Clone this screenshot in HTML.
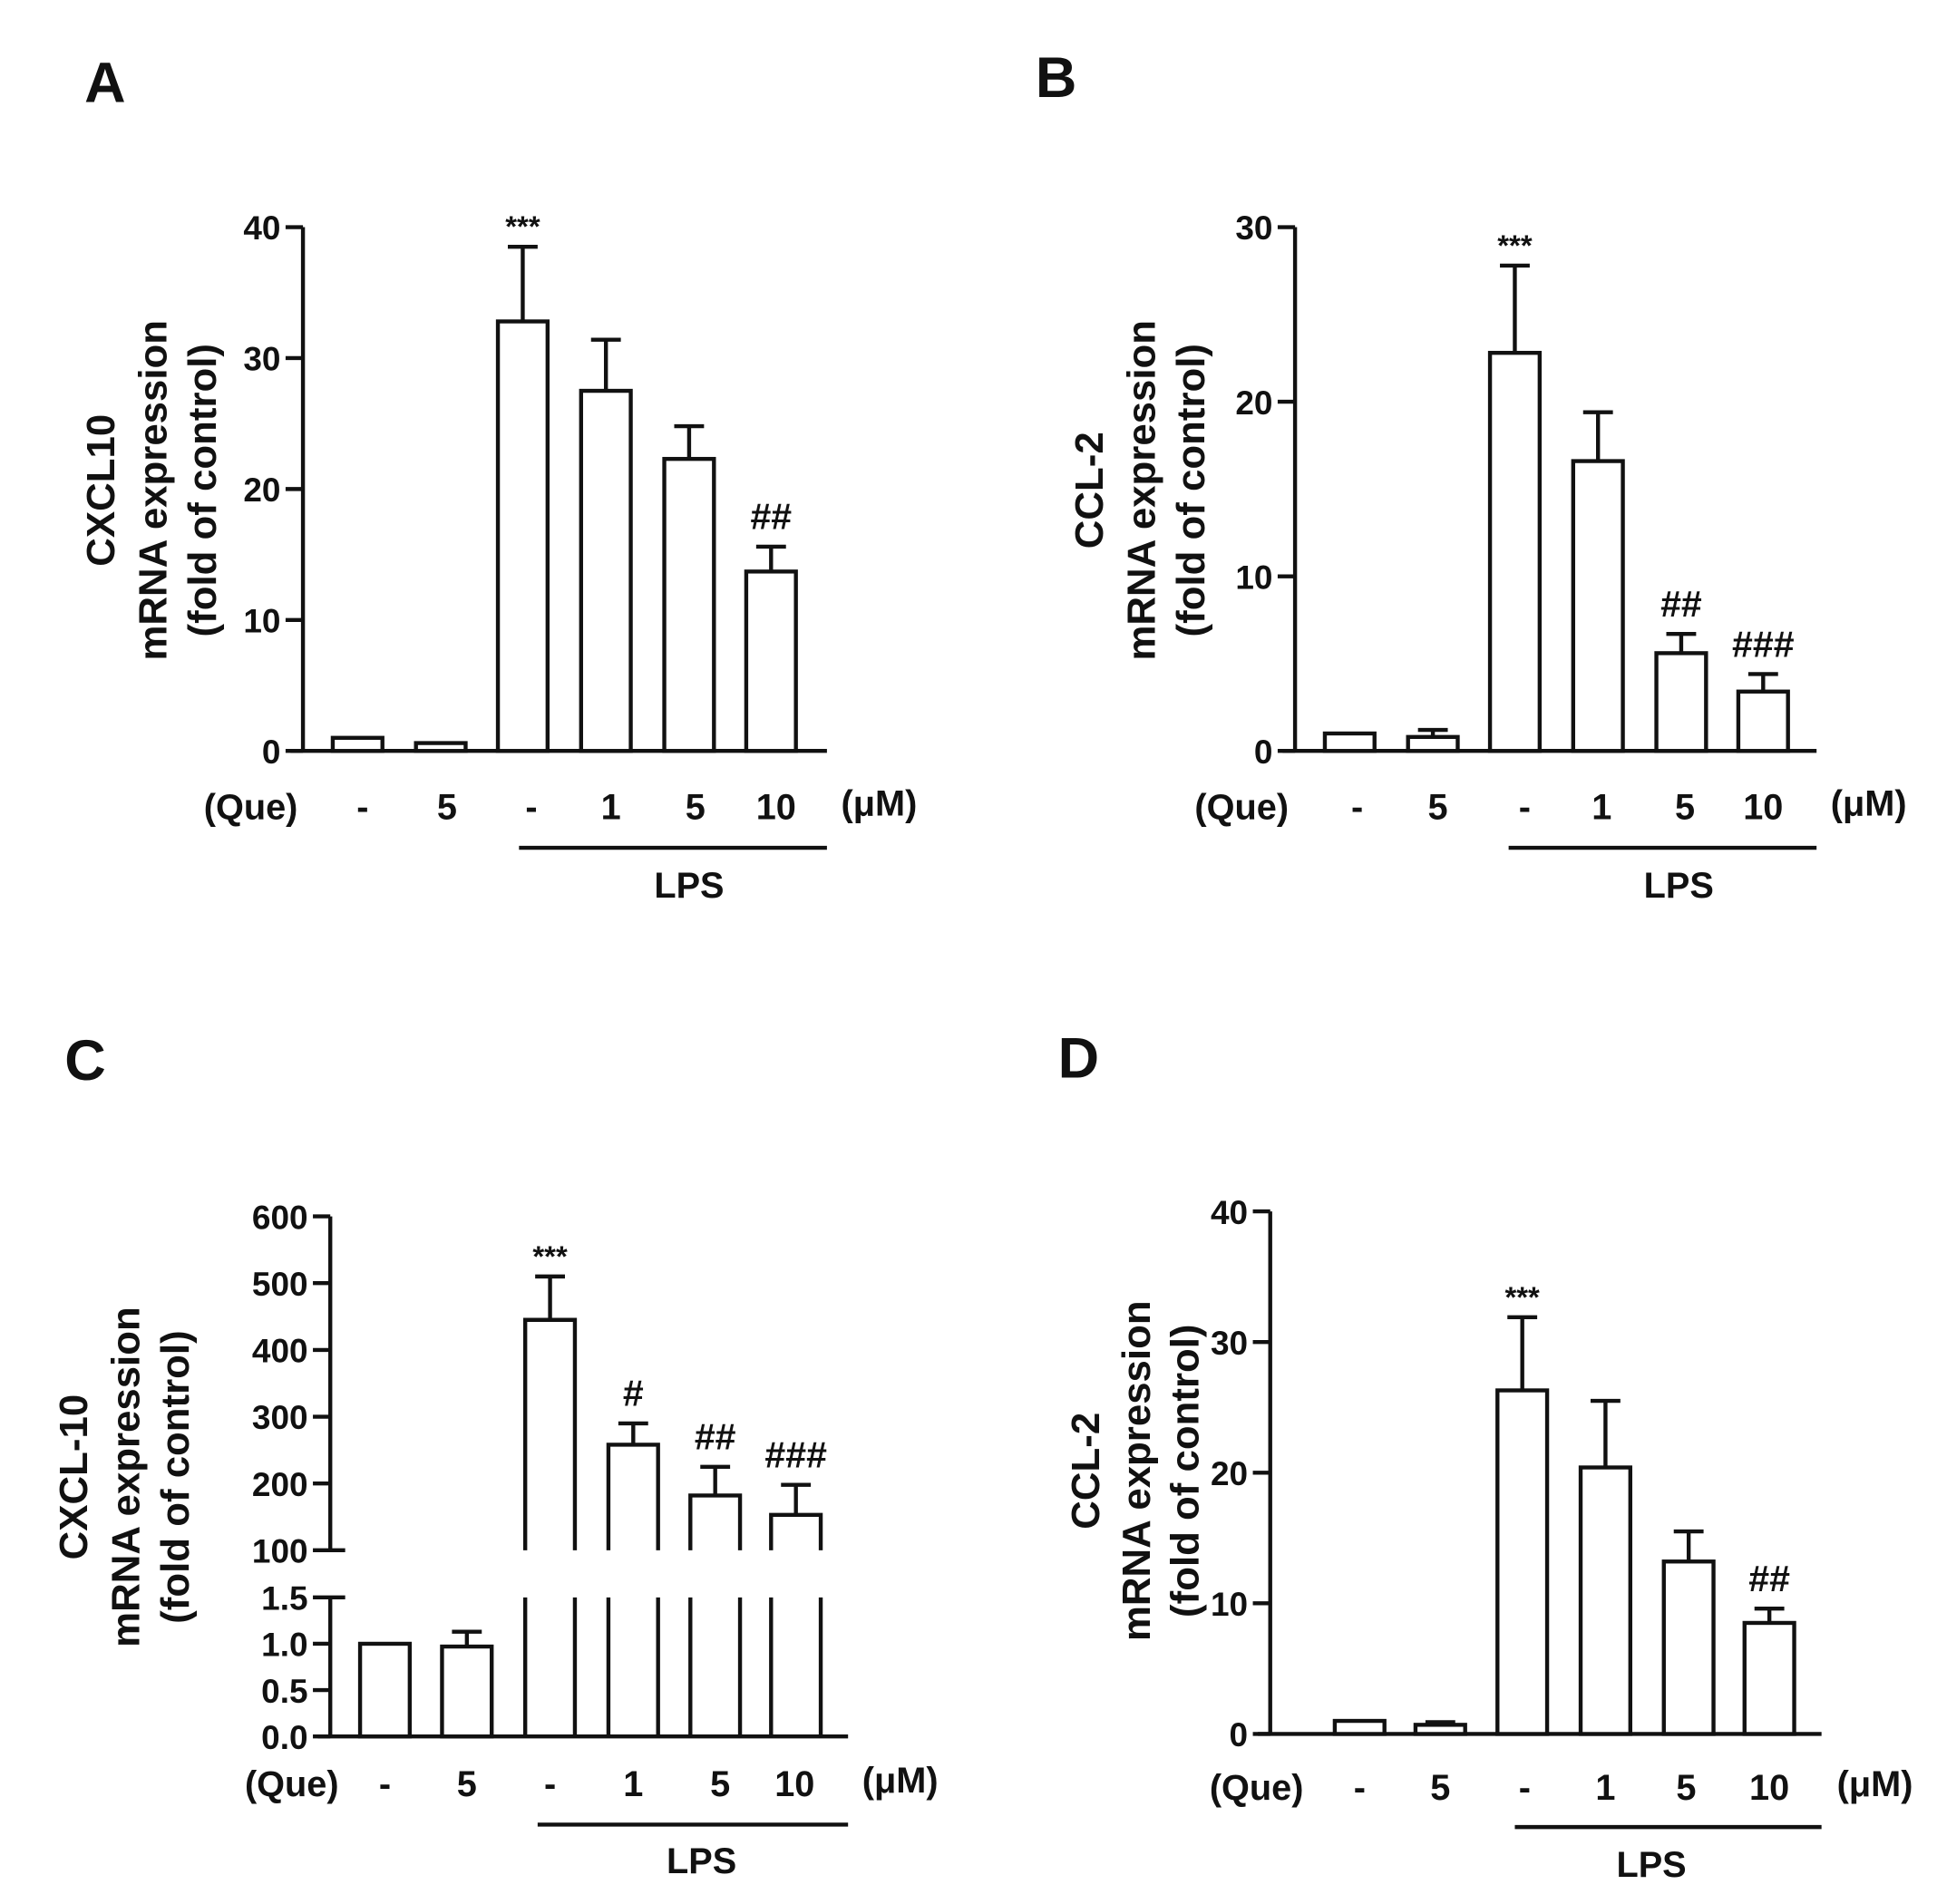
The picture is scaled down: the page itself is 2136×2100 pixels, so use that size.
<!DOCTYPE html>
<html><head><meta charset="utf-8"><style>
html,body{margin:0;padding:0;background:#fff;}
svg{display:block;}
text{font-family:"Liberation Sans",Arial,sans-serif;font-weight:bold;fill:#111;}
</style></head>
<body>
<svg id="fig" width="2136" height="2100" viewBox="0 0 1560 1534" preserveAspectRatio="none" xmlns="http://www.w3.org/2000/svg"></svg>
<script>
const groupLabels = ["-", "5", "-", "1", "5", "10"];
const valuesA = [1, 0.6, 32.8, 27.5, 22.3, 13.7];
const errorsA = [1, 0.6, 38.5, 31.4, 24.8, 15.6];
const marksA = ["", "", "***", "", "", "##"];
const ticksA = [0, 10, 20, 30, 40];
const valuesB = [1, 0.8, 22.8, 16.6, 5.6, 3.4];
const errorsB = [1, 1.2, 27.8, 19.4, 6.7, 4.4];
const marksB = ["", "", "***", "", "##", "###"];
const ticksB = [0, 10, 20, 30];
const valuesC = [1, 0.97, 445, 258, 182, 153];
const errorsC = [1, 1.13, 510, 290, 225, 198];
const marksC = ["", "", "***", "#", "##", "###"];
const ticksCLow = [0.0, 0.5, 1.0, 1.5];
const ticksCHigh = [100, 200, 300, 400, 500, 600];
const valuesD = [1, 0.7, 26.3, 20.4, 13.2, 8.5];
const errorsD = [1, 0.9, 31.9, 25.5, 15.5, 9.6];
const marksD = ["", "", "***", "", "", "##"];
const ticksD = [0, 10, 20, 30, 40];

const NS = "http://www.w3.org/2000/svg";
const svg = document.getElementById("fig");
function mk(tag, attrs, parent, txt) {
  const e = document.createElementNS(NS, tag);
  for (const k in attrs) e.setAttribute(k, attrs[k]);
  if (txt !== undefined) e.textContent = txt;
  (parent || svg).appendChild(e);
  return e;
}
const SW = 3.2;
const TFS = 32;

function panel(o) {
  const g = mk("g", {});
  
  
  const letter = mk("text", {x: o.letterX, y: o.letterY, "font-size": 46}, g, o.letter);
  
  
  const tx = o.titleX, ty = o.titleY;
  o.title.forEach((line, i) => {
    const t = mk("text", {x: 0, y: 0, "font-size": TFS, "text-anchor": "middle",
      transform: `translate(${tx[i]},${ty}) rotate(-90)`}, g, line);
    
    
  });
  const bw = o.barW;
  const ax = mk("line", {x1: o.axX, y1: o.axTop, x2: o.axX, y2: o.y0, stroke: "#111", "stroke-width": SW}, g);
  
  
  const xa = mk("line", {x1: o.axX - 10, y1: o.y0, x2: o.axEnd, y2: o.y0, stroke: "#111", "stroke-width": SW}, g);
  
  
  o.ticks.forEach(v => {
    const y = o.yScale(v);
    mk("line", {x1: o.axX - 14, y1: y, x2: o.axX, y2: y, stroke: "#111", "stroke-width": SW}, g);
    const t = mk("text", {x: o.axX - 18, y: y + 10, "font-size": 27, "text-anchor": "end"}, g, String(v));
    
    
  });
  o.values.forEach((v, i) => {
    const cx = o.xs[i];
    const yt = o.yScale(v);
    const r = mk("rect", {x: cx - bw / 2, y: yt, width: bw, height: Math.max(o.y0 - yt, 1), fill: "#fff", stroke: "#111", "stroke-width": SW}, g);
    
    
    const ye = o.yScale(o.errors[i]);
    if (ye < yt - 2) {
      mk("line", {x1: cx, y1: yt, x2: cx, y2: ye, stroke: "#111", "stroke-width": SW}, g);
      mk("line", {x1: cx - 12, y1: ye, x2: cx + 12, y2: ye, stroke: "#111", "stroke-width": SW}, g);
    }
    if (o.marks[i]) {
      const st = o.marks[i].startsWith("*");
      const m = mk("text", {x: cx, y: ye - (st ? 8 : 14), "font-size": st ? 24 : 30, "font-weight": "normal", "text-anchor": "middle"}, g, o.marks[i]);
      
      
    }
    const l = mk("text", {x: o.lx[i], y: o.labY, "font-size": 29, "text-anchor": "middle"}, g, groupLabels[i]);
    
    
  });
  mk("text", {x: o.queX, y: o.labY, "font-size": 29, "text-anchor": "middle"}, g, "(Que)");
  mk("text", {x: o.umX, y: o.labY - 3, "font-size": 29, "text-anchor": "middle"}, g, "(μM)");
  const lp = mk("line", {x1: o.lpsX1, y1: o.lpsY, x2: o.axEnd, y2: o.lpsY, stroke: "#111", "stroke-width": SW}, g);
  
  
  const lt = mk("text", {x: o.lpsTX, y: o.lpsY + 40, "font-size": 29, "text-anchor": "middle"}, g, "LPS");
  
  
  return g;
}
function lin(v0, p0, v1, p1) { return v => p0 + (v - v0) * (p1 - p0) / (v1 - v0); }

panel({name: "panel-a", letter: "A", letterX: 68, letterY: 82, title: ["CXCL10", "mRNA expression", "(fold of control)"],
  titleX: [92, 134, 174], titleY: 395, axX: 244, axTop: 183, y0: 605, axEnd: 666, barW: 40,
  yScale: lin(0, 605, 40, 183), ticks: ticksA, values: valuesA, errors: errorsA, marks: marksA,
  xs: [288, 355, 421, 488, 555, 621], lx: [292, 360, 428, 492, 560, 625], labY: 660, queX: 202, umX: 708,
  lpsX1: 418, lpsY: 683, lpsTX: 555});
panel({name: "panel-b", letter: "B", letterX: 834, letterY: 78, title: ["CCL-2", "mRNA expression", "(fold of control)"],
  titleX: [888, 930, 970], titleY: 395, axX: 1043, axTop: 183, y0: 605, axEnd: 1463, barW: 40,
  yScale: lin(0, 605, 30, 183), ticks: ticksB, values: valuesB, errors: errorsB, marks: marksB,
  xs: [1087, 1154, 1220, 1287, 1354, 1420], lx: [1093, 1158, 1228, 1290, 1357, 1420], labY: 660, queX: 1000, umX: 1505,
  lpsX1: 1215, lpsY: 683, lpsTX: 1352});
panel({name: "panel-d", letter: "D", letterX: 852, letterY: 868, title: ["CCL-2", "mRNA expression", "(fold of control)"],
  titleX: [885, 926, 965], titleY: 1185, axX: 1023, axTop: 976, y0: 1397, axEnd: 1467, barW: 40,
  yScale: lin(0, 1397, 40, 976), ticks: ticksD, values: valuesD, errors: errorsD, marks: marksD,
  xs: [1095, 1160, 1226, 1293, 1360, 1425], lx: [1095, 1160, 1228, 1293, 1358, 1425], labY: 1450, queX: 1012, umX: 1510,
  lpsX1: 1220, lpsY: 1472, lpsTX: 1330});

(function () {
  const g = mk("g", {});
  
  
  mk("text", {x: 52, y: 870, "font-size": 46}, g, "C");
  const titles = ["CXCL-10", "mRNA expression", "(fold of control)"];
  [70, 112, 152].forEach((x, i) => {
    const t = mk("text", {x: 0, y: 0, "font-size": TFS, "text-anchor": "middle", transform: `translate(${x},1190) rotate(-90)`}, g, titles[i]);
    
    
  });
  const axX = 266, y0 = 1399;
  const yLow = lin(0, 1399, 1.5, 1287);
  const yHigh = lin(100, 1249, 600, 980);
  const xs = [310, 376, 443, 510, 576, 641];
  const lx = [310, 376, 443, 510, 580, 640];
  const bw = 40;
  mk("line", {x1: axX, y1: 980, x2: axX, y2: 1249, stroke: "#111", "stroke-width": SW}, g);
  mk("line", {x1: axX, y1: 1287, x2: axX, y2: y0, stroke: "#111", "stroke-width": SW}, g);
  mk("line", {x1: axX - 10, y1: y0, x2: 683, y2: y0, stroke: "#111", "stroke-width": SW}, g);
  ticksCHigh.forEach(v => {
    const y = yHigh(v);
    mk("line", {x1: axX - 14, y1: y, x2: axX + (v === 100 ? 12 : 0), y2: y, stroke: "#111", "stroke-width": SW}, g);
    mk("text", {x: axX - 18, y: y + 10, "font-size": 27, "text-anchor": "end"}, g, String(v));
  });
  ticksCLow.forEach(v => {
    const y = yLow(v);
    mk("line", {x1: axX - 14, y1: y, x2: axX + (v === 1.5 ? 12 : 0), y2: y, stroke: "#111", "stroke-width": SW}, g);
    mk("text", {x: axX - 18, y: y + 10, "font-size": 27, "text-anchor": "end"}, g, v.toFixed(1));
  });
  valuesC.forEach((v, i) => {
    const cx = xs[i];
    if (v <= 1.5) {
      const yt = yLow(v);
      const r = mk("rect", {x: cx - bw / 2, y: yt, width: bw, height: y0 - yt, fill: "#fff", stroke: "#111", "stroke-width": SW}, g);
      
      
      const ye = yLow(errorsC[i]);
      if (ye < yt - 2) {
        mk("line", {x1: cx, y1: yt, x2: cx, y2: ye, stroke: "#111", "stroke-width": SW}, g);
        mk("line", {x1: cx - 12, y1: ye, x2: cx + 12, y2: ye, stroke: "#111", "stroke-width": SW}, g);
      }
    } else {
      const yt = yHigh(v);
      const p = mk("path", {d: `M${cx - bw / 2},${yHigh(100)} V${yt} H${cx + bw / 2} V${yHigh(100)} M${cx - bw / 2},${yLow(1.5)} V${y0} M${cx + bw / 2},${yLow(1.5)} V${y0}`, fill: "none", stroke: "#111", "stroke-width": SW}, g);
      
      
      const ye = yHigh(errorsC[i]);
      mk("line", {x1: cx, y1: yt, x2: cx, y2: ye, stroke: "#111", "stroke-width": SW}, g);
      mk("line", {x1: cx - 12, y1: ye, x2: cx + 12, y2: ye, stroke: "#111", "stroke-width": SW}, g);
      if (marksC[i]) {
        const st = marksC[i].startsWith("*");
        const m = mk("text", {x: cx, y: ye - (st ? 8 : 14), "font-size": st ? 24 : 30, "font-weight": "normal", "text-anchor": "middle"}, g, marksC[i]);
        
        
      }
    }
    const l = mk("text", {x: lx[i], y: 1447, "font-size": 29, "text-anchor": "middle"}, g, groupLabels[i]);
    
    
  });
  mk("text", {x: 235, y: 1447, "font-size": 29, "text-anchor": "middle"}, g, "(Que)");
  mk("text", {x: 725, y: 1444, "font-size": 29, "text-anchor": "middle"}, g, "(μM)");
  const lp = mk("line", {x1: 433, y1: 1470, x2: 683, y2: 1470, stroke: "#111", "stroke-width": SW}, g);
  
  
  mk("text", {x: 565, y: 1509, "font-size": 29, "text-anchor": "middle"}, g, "LPS");
})();
</script>
</body></html>
